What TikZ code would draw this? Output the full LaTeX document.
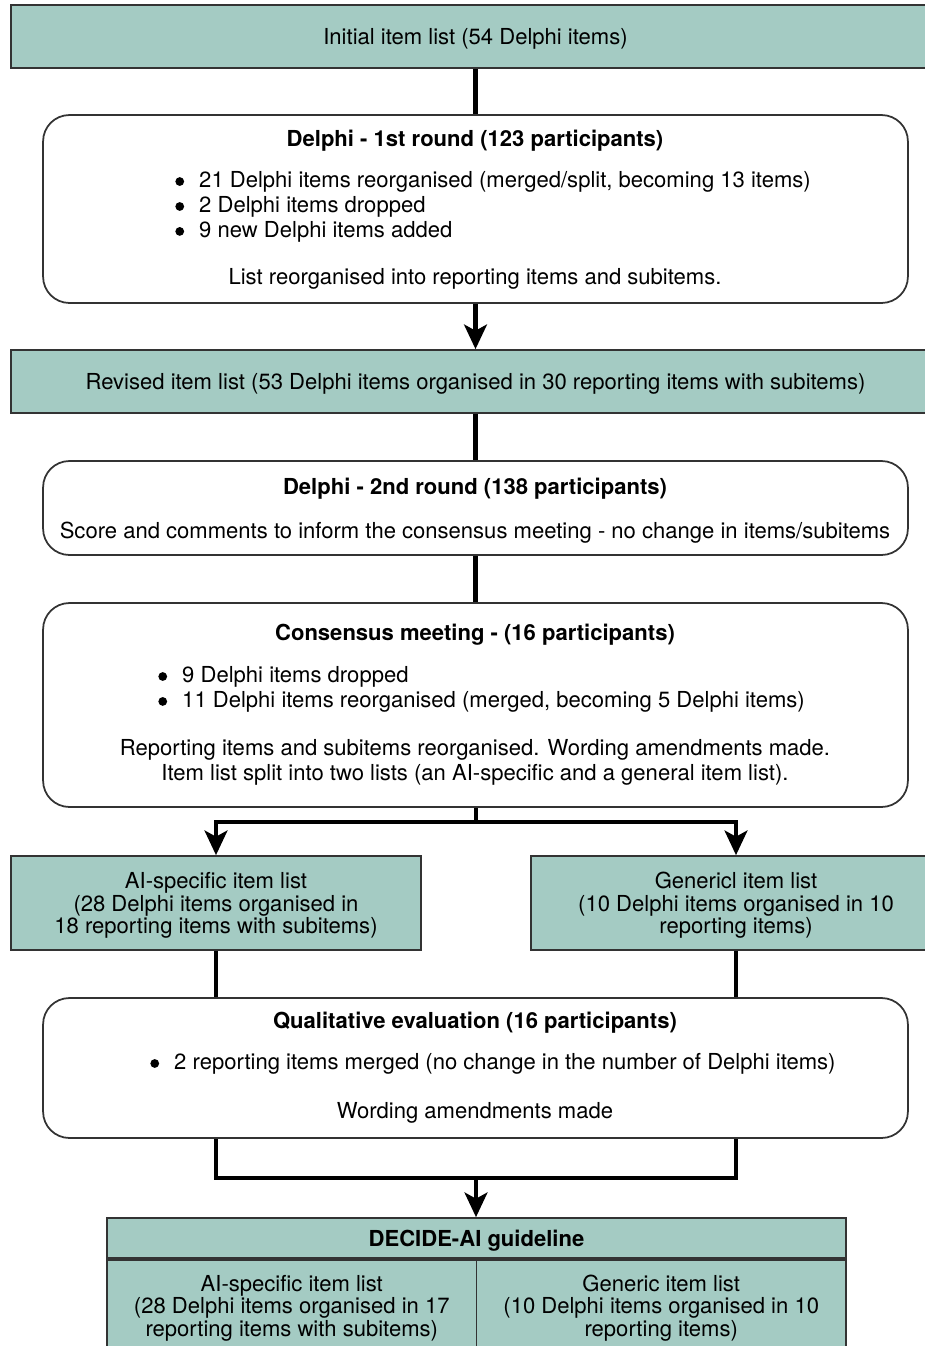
\documentclass[tikz,border=0pt]{standalone}
\usepackage{fontspec}
\setmainfont{TeX Gyre Heros}
\usetikzlibrary{arrows.meta}
\definecolor{listgreen}{RGB}{164,203,195}
\newcommand{\itembullet}{\raisebox{1.1pt}{\tikz\fill[black] (0,0) circle[radius=2.5pt];}}

\begin{document}
\begin{tikzpicture}[x=0.02cm,y=-0.02cm,
  font=\fontsize{12.55}{14.2}\selectfont,
  listbox/.style={draw=black!80, line width=1pt, fill=listgreen, inner sep=0pt, align=center,
    text depth=0pt, font=\fontsize{12.55}{12.8}\selectfont},
  roundbox/.style={draw=black!80, line width=1pt, rounded corners=15pt, inner sep=0pt, minimum width=17.3cm},
  txt/.style={inner sep=0pt, align=center, yshift=-1.6pt},
  conn/.style={line width=2.3pt},
  arr/.style={conn, -{Stealth[length=14pt,width=13pt,inset=3.5pt]}}]
  \useasboundingbox (0,0) rectangle (925,1346);
  \clip (0,0) rectangle (925,1346);

  % item lists and rounds
  \node[listbox, minimum width=18.58cm, minimum height=1.26cm] (initial) at (475.5,36.5)
    {Initial item list (54 Delphi items)};

  \node[roundbox, minimum height=3.76cm] (round1) at (475.5,209) {};
  \node[txt] (round1title) at (475,138) {\textbf{Delphi - 1st round (123 participants)}};
  \node[txt, anchor=west] (round1list) at (175,205) {\begin{tabular}{@{}l@{\hspace{8.6pt}}l@{}}
    \itembullet & 21 Delphi items reorganised (merged/split, becoming 13 items)\\
    \itembullet & 2 Delphi items dropped\\
    \itembullet & 9 new Delphi items added
  \end{tabular}};
  \node[txt] (round1note) at (475,276) {List reorganised into reporting items and subitems.};

  \node[listbox, minimum width=18.58cm, minimum height=1.26cm] (revised) at (475.5,381.5)
    {Revised item list (53 Delphi items organised in 30 reporting items with subitems)};

  \node[roundbox, minimum height=1.88cm] (round2) at (475.5,508) {};
  \node[txt] (round2title) at (475,486) {\textbf{Delphi - 2nd round (138 participants)}};
  \node[txt] (round2note) at (475,530) {Score and comments to inform the consensus meeting - no change in items/subitems};

  \node[roundbox, minimum height=4.08cm] (consensus) at (475.5,705) {};
  \node[txt] (constitle) at (475,632) {\textbf{Consensus meeting - (16 participants)}};
  \node[txt, anchor=west] (conslist) at (158,687.5) {\begin{tabular}{@{}l@{\hspace{8.6pt}}l@{}}
    \itembullet & 9 Delphi items dropped\\
    \itembullet & 11 Delphi items reorganised (merged, becoming 5 Delphi items)
  \end{tabular}};
  \node[txt] (consnote) at (475,759.5) {Reporting items and subitems reorganised. Wording amendments made.\\
    Item list split into two lists (an AI-specific and a general item list).};

  \node[listbox, minimum width=8.2cm, minimum height=1.88cm] (aispec) at (216,903)
    {AI-specific item list\\(28 Delphi items organised in\\18 reporting items with subitems)};
  \node[listbox, minimum width=8.2cm, minimum height=1.88cm] (generic) at (736,903)
    {Genericl item list\\(10 Delphi items organised in 10\\reporting items)};

  \node[roundbox, minimum height=2.8cm] (qual) at (475.5,1068) {};
  \node[txt] (qualtitle) at (475,1020) {\textbf{Qualitative evaluation (16 participants)}};
  \node[txt, anchor=west] (quallist) at (150,1062) {\begin{tabular}{@{}l@{\hspace{8.6pt}}l@{}}
    \itembullet & 2 reporting items merged (no change in the number of Delphi items)
  \end{tabular}};
  \node[txt] (qualnote) at (475,1110) {Wording amendments made};

  % final guideline
  \node[listbox, minimum width=14.78cm, minimum height=0.8cm] (decide) at (476.5,1238)
    {\textbf{DECIDE-AI guideline}};
  \node[listbox, minimum width=7.39cm, minimum height=1.84cm, anchor=north west] (decideai) at (decide.south west)
    {AI-specific item list\\(28 Delphi items organised in 17\\reporting items with subitems)};
  \node[listbox, minimum width=7.39cm, minimum height=1.84cm, anchor=north east] (decidegen) at (decide.south east)
    {Generic item list\\(10 Delphi items organised in 10\\reporting items)};

  % connectors
  \coordinate (split) at (476,822);
  \coordinate (merge) at (476,1178);
  \draw[conn] (initial) -- (round1);
  \draw[arr] (round1) -- (revised);
  \draw[conn] (revised) -- (round2);
  \draw[conn] (round2) -- (consensus);
  \draw[conn] (consensus.south -| split) -- (split);
  \draw[arr] (split) -| (aispec);
  \draw[arr] (split) -| (generic);
  \draw[conn] (aispec) -- (aispec |- qual.north);
  \draw[conn] (generic) -- (generic |- qual.north);
  \draw[conn] (aispec |- qual.south) |- (merge) -| (generic |- qual.south);
  \draw[arr] (merge) -- (decide.north -| merge);
\end{tikzpicture}
\end{document}
